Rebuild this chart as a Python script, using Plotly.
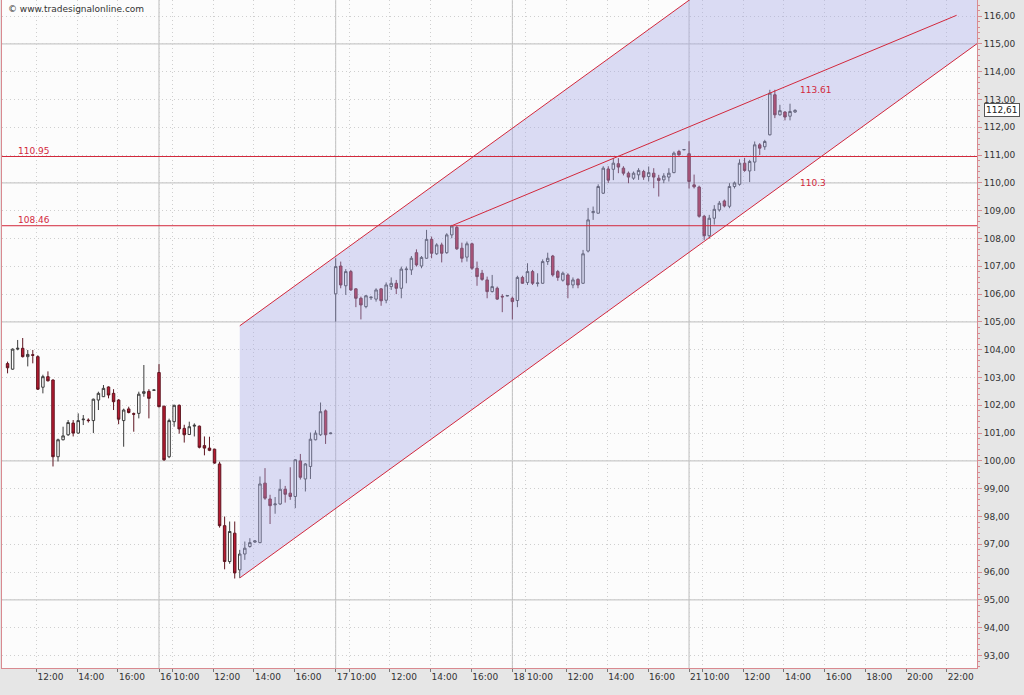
"""Intraday candlestick chart with a rising channel and support levels."""
import plotly.graph_objects as go

# ---------------------------------------------------------------------------
# Session layout: 15-minute bars, 35 bars per trading day (09:20 - 18:00)
# ---------------------------------------------------------------------------
BARS_PER_DAY = 35
BARS_PER_HOUR = 4.03
SESSION_OPEN = 9 + 20 / 60

DAY_LABELS = ["15", "16", "17", "18", "21"]
FIRST_BAR = [5, 0, 0, 0, 0]
HOUR_TICKS = [
    [12, 14, 16],
    [10, 12, 14, 16],
    [10, 12, 14, 16],
    [10, 12, 14, 16],
    [10, 12, 14, 16, 18, 20, 22],
]

# (open, high, low, close) per bar
DAY15 = [
    (103.50, 103.57, 103.15, 103.35), (103.30, 104.05, 103.28, 104.02),
    (104.02, 104.35, 103.98, 104.05), (104.05, 104.42, 103.72, 103.75),
    (103.75, 103.99, 103.40, 103.83), (103.82, 103.99, 103.51, 103.80),
    (103.75, 103.80, 102.55, 102.58), (102.65, 103.10, 102.43, 103.03),
    (103.03, 103.22, 102.86, 102.88), (102.91, 102.93, 99.80, 100.15),
    (100.15, 100.80, 99.98, 100.76), (100.76, 101.23, 100.74, 100.90),
    (100.94, 101.47, 100.90, 101.38), (101.36, 101.47, 100.88, 101.00),
    (101.00, 101.71, 100.98, 101.45), (101.48, 101.65, 101.29, 101.50),
    (101.47, 101.53, 101.38, 101.45), (101.45, 102.24, 101.00, 102.22),
    (102.19, 102.49, 101.83, 102.43), (102.31, 102.73, 102.30, 102.61),
    (102.66, 102.68, 102.25, 102.37), (102.43, 102.58, 101.83, 102.13),
    (102.19, 102.22, 101.32, 101.50), (101.45, 101.88, 100.51, 101.83),
    (101.87, 101.95, 101.71, 101.74), (101.70, 101.74, 101.05, 101.68),
    (101.71, 102.49, 101.53, 102.40), (102.43, 103.45, 102.31, 102.49),
    (102.50, 102.58, 101.53, 102.25), (102.54, 102.56, 102.53, 102.55),
]
DAY16 = [
    (103.18, 103.48, 101.93, 101.95), (101.97, 101.98, 100.00, 100.04),
    (100.15, 101.52, 100.10, 101.45), (101.41, 102.02, 101.23, 102.00),
    (102.00, 102.03, 100.98, 101.15), (101.17, 101.30, 100.66, 100.94),
    (100.95, 101.41, 100.93, 101.23), (101.25, 101.35, 100.88, 101.28),
    (101.25, 101.27, 100.45, 100.49), (100.55, 100.88, 100.20, 100.46),
    (100.46, 100.87, 100.35, 100.38), (100.42, 100.44, 99.90, 99.92),
    (99.89, 99.97, 97.60, 97.67), (97.67, 98.00, 96.10, 96.38),
    (96.38, 97.82, 96.30, 97.46), (97.40, 97.82, 95.77, 95.97),
    (96.08, 96.80, 95.79, 96.65), (96.65, 97.10, 96.44, 96.86),
    (96.92, 97.22, 96.88, 97.06), (97.08, 97.15, 97.05, 97.12),
    (97.06, 99.44, 97.04, 99.17), (99.20, 99.74, 98.60, 98.66),
    (98.63, 98.78, 97.73, 98.39), (98.42, 98.70, 98.10, 98.45),
    (98.45, 99.34, 98.42, 98.98), (98.98, 99.10, 98.50, 98.80),
    (98.84, 99.77, 98.60, 98.72), (98.72, 100.06, 98.30, 100.04),
    (100.00, 100.25, 99.33, 99.41), (99.35, 99.92, 98.90, 99.89),
    (99.80, 101.02, 99.35, 100.78), (100.76, 101.10, 100.74, 101.00),
    (100.94, 102.10, 100.90, 101.77), (101.80, 101.85, 100.61, 100.94),
    (100.98, 101.02, 100.96, 101.00),
]
DAY17 = [
    (106.01, 107.29, 105.01, 106.99), (107.01, 107.17, 106.21, 106.33),
    (106.30, 106.90, 105.97, 106.81), (106.81, 106.87, 106.12, 106.15),
    (106.19, 106.21, 105.53, 105.85), (105.85, 105.91, 105.09, 105.61),
    (105.55, 105.97, 105.49, 105.94), (105.87, 105.91, 105.79, 105.89),
    (105.82, 106.21, 105.73, 106.15), (106.19, 106.21, 105.58, 105.76),
    (105.78, 106.42, 105.67, 106.33), (106.27, 106.60, 106.15, 106.39),
    (106.39, 106.51, 106.00, 106.21), (106.21, 106.99, 105.85, 106.90),
    (106.88, 106.99, 106.39, 106.90), (106.87, 107.37, 106.69, 107.29),
    (107.49, 107.61, 106.99, 107.05), (107.01, 107.37, 106.93, 107.32),
    (107.29, 108.31, 107.27, 107.97), (107.97, 108.07, 107.29, 107.47),
    (107.45, 107.83, 107.41, 107.77), (107.77, 107.85, 107.14, 107.47),
    (107.49, 108.19, 107.45, 108.13), (108.13, 108.49, 108.01, 108.45),
    (108.40, 108.45, 107.59, 107.63), (107.65, 107.85, 107.14, 107.29),
    (107.33, 107.89, 107.17, 107.81), (107.81, 107.85, 106.87, 106.93),
    (106.93, 107.17, 106.30, 106.63), (106.75, 106.87, 106.48, 106.53),
    (106.51, 106.63, 105.85, 106.09), (106.09, 106.69, 106.06, 106.27),
    (106.21, 106.27, 105.79, 105.82), (105.92, 106.00, 105.35, 105.90),
    (105.93, 105.96, 105.92, 105.95),
]
DAY18 = [
    (105.85, 105.91, 105.09, 105.73), (105.77, 106.66, 105.53, 106.60),
    (106.60, 106.66, 106.37, 106.39), (106.42, 107.11, 106.33, 106.81),
    (106.81, 106.87, 106.33, 106.39), (106.38, 106.75, 106.27, 106.40),
    (106.39, 107.25, 106.37, 107.17), (107.17, 107.49, 107.05, 107.29),
    (107.37, 107.41, 106.63, 106.69), (106.81, 106.87, 106.48, 106.60),
    (106.50, 106.81, 106.45, 106.75), (106.69, 106.75, 105.85, 106.33),
    (106.33, 106.60, 106.21, 106.51), (106.53, 106.57, 106.21, 106.33),
    (106.39, 107.59, 106.37, 107.45), (107.55, 109.10, 107.50, 108.67),
    (108.93, 109.15, 108.67, 108.97), (108.91, 109.95, 108.90, 109.87),
    (109.63, 110.60, 109.60, 110.53), (110.50, 110.60, 110.00, 110.10),
    (110.49, 110.89, 110.10, 110.71), (110.69, 110.89, 110.35, 110.57),
    (110.53, 110.60, 110.27, 110.35), (110.35, 110.41, 109.99, 110.21),
    (110.17, 110.41, 110.11, 110.35), (110.29, 110.53, 110.11, 110.45),
    (110.41, 110.47, 110.11, 110.21), (110.23, 110.59, 110.05, 110.37),
    (110.35, 110.53, 109.81, 110.21), (110.17, 110.29, 109.51, 110.09),
    (110.11, 110.35, 109.99, 110.25), (110.21, 110.53, 110.05, 110.35),
    (110.37, 111.13, 110.35, 111.07), (111.13, 111.19, 110.98, 111.01),
    (111.19, 111.21, 111.18, 111.20),
]
DAY21 = [
    (111.05, 111.50, 109.80, 110.05), (109.93, 110.30, 109.80, 109.86),
    (109.85, 109.90, 108.75, 108.80), (108.80, 108.85, 107.95, 108.10),
    (108.10, 108.85, 108.00, 108.73), (108.73, 109.20, 108.50, 109.05),
    (109.03, 109.35, 108.97, 109.27), (109.35, 109.40, 109.12, 109.17),
    (109.16, 109.99, 109.09, 109.87), (109.87, 110.05, 109.80, 110.00),
    (109.95, 110.85, 109.90, 110.71), (110.71, 110.90, 110.40, 110.45),
    (110.43, 110.83, 110.03, 110.77), (110.75, 111.49, 110.43, 111.37),
    (111.37, 111.43, 111.00, 111.25), (111.30, 111.55, 111.19, 111.49),
    (111.73, 113.35, 111.71, 113.23), (113.17, 113.35, 112.33, 112.45),
    (112.45, 112.81, 112.42, 112.60), (112.55, 112.58, 112.25, 112.37),
    (112.40, 112.85, 112.25, 112.57), (112.55, 112.65, 112.52, 112.61),
]
SESSIONS = [DAY15, DAY16, DAY17, DAY18, DAY21]

# Drawing tools
LEVELS = [110.95, 108.46]
CHANNEL_START = 51          # bar of the channel anchor (the low)
CHANNEL_LOW = 95.79
CHANNEL_HIGH = 104.86
CHANNEL_SLOPE = 0.1316      # price per bar
TREND_BARS = [93, 193]
TREND_PRICES = [108.46, 116.03]
LABEL_BAR = 161

X_RANGE = [3.9, 197.04]
Y_RANGE = [92.55, 116.58]

RED = "#d2283c"
BULL_FILL = "#ffffff"
BEAR_FILL = "#b81a30"
BULL_LINE = "#3c3c3c"
BEAR_LINE = "#5e1520"
GRID = "#cfcfcf"

# ---------------------------------------------------------------------------
# Flatten bars
# ---------------------------------------------------------------------------
xs, op, hi, lo, cl = [], [], [], [], []
for d, bars in enumerate(SESSIONS):
    start = d * BARS_PER_DAY + FIRST_BAR[d]
    for j, (o, h, l, c) in enumerate(bars):
        xs.append(start + j)
        op.append(o)
        hi.append(h)
        lo.append(l)
        cl.append(c)

tickvals, ticktext = [], []
for d, hours in enumerate(HOUR_TICKS):
    day_start = d * BARS_PER_DAY
    if d > 0:
        tickvals.append(day_start)
        ticktext.append(DAY_LABELS[d])
    for h in hours:
        tickvals.append(day_start + (h - SESSION_OPEN) * BARS_PER_HOUR)
        ticktext.append(f"{h}:00")


def channel(bar, base):
    return base + (bar - CHANNEL_START) * CHANNEL_SLOPE


def trend(bar):
    b0, b1 = TREND_BARS
    p0, p1 = TREND_PRICES
    return p0 + (bar - b0) * (p1 - p0) / (b1 - b0)


ch_end = X_RANGE[1] + 2

fig = go.Figure()

# shaded channel
fig.add_trace(go.Scatter(
    x=[CHANNEL_START, ch_end, ch_end, CHANNEL_START, CHANNEL_START],
    y=[channel(CHANNEL_START, CHANNEL_LOW), channel(ch_end, CHANNEL_LOW),
       channel(ch_end, CHANNEL_HIGH), channel(CHANNEL_START, CHANNEL_HIGH),
       channel(CHANNEL_START, CHANNEL_LOW)],
    mode="lines", fill="toself", fillcolor="rgba(168,170,230,0.40)",
    line=dict(width=0), hoverinfo="skip",
))
for base in (CHANNEL_LOW, CHANNEL_HIGH):
    fig.add_trace(go.Scatter(
        x=[CHANNEL_START, ch_end],
        y=[channel(CHANNEL_START, base), channel(ch_end, base)],
        mode="lines", line=dict(color=RED, width=1), hoverinfo="skip",
    ))
fig.add_trace(go.Scatter(
    x=TREND_BARS, y=TREND_PRICES, mode="lines",
    line=dict(color=RED, width=1), hoverinfo="skip",
))
for lvl in LEVELS:
    fig.add_trace(go.Scatter(
        x=X_RANGE, y=[lvl, lvl], mode="lines",
        line=dict(color=RED, width=1), hoverinfo="skip",
    ))

fig.add_trace(go.Candlestick(
    x=xs, open=op, high=hi, low=lo, close=cl,
    increasing=dict(fillcolor=BULL_FILL, line=dict(color=BULL_LINE, width=1)),
    decreasing=dict(fillcolor=BEAR_FILL, line=dict(color=BEAR_LINE, width=1)),
    whiskerwidth=0,
))

# solid grid: every 5 points and day separators
for p in range(95, 120, 5):
    fig.add_hline(y=p, line=dict(color="#bdbdbd", width=1), layer="below")
for d in range(1, len(DAY_LABELS)):
    fig.add_vline(x=d * BARS_PER_DAY, line=dict(color="#bdbdbd", width=1), layer="below")

# text labels
for lvl in LEVELS:
    fig.add_annotation(x=0.014, xref="paper", y=lvl, yref="y", text=f"{lvl:.2f}",
                       showarrow=False, xanchor="left", yanchor="bottom",
                       font=dict(size=9, color=RED), yshift=-1)
fig.add_annotation(x=LABEL_BAR + 0.5, y=trend(LABEL_BAR), text=f"{trend(LABEL_BAR):.2f}",
                   showarrow=False, xanchor="left", yanchor="top",
                   font=dict(size=9, color=RED))
fig.add_annotation(x=LABEL_BAR + 0.5, y=channel(LABEL_BAR, CHANNEL_LOW),
                   text=f"{channel(LABEL_BAR, CHANNEL_LOW):.1f}",
                   showarrow=False, xanchor="left", yanchor="top",
                   font=dict(size=9, color=RED))
fig.add_annotation(x=1.0, xref="paper", y=cl[-1], yref="y",
                   text=f"{cl[-1]:.2f}".replace(".", ","),
                   showarrow=False, xanchor="left", xshift=7,
                   bordercolor="#555555", borderwidth=1, borderpad=1,
                   bgcolor="#ffffff", font=dict(size=9, color="#222222"))
fig.add_annotation(x=0.004, xref="paper", y=0.997, yref="paper",
                   text="© www.tradesignalonline.com", showarrow=False,
                   xanchor="left", yanchor="top",
                   font=dict(size=9, color="#333333"))

fig.update_layout(
    width=1024, height=695,
    margin=dict(l=2, r=47, t=0, b=27),
    paper_bgcolor="#e6e6e6",
    plot_bgcolor="#fcfcfc",
    separators=",.",
    showlegend=False,
    font=dict(family="DejaVu Sans", size=9, color="#333333"),
    xaxis=dict(
        range=X_RANGE, rangeslider=dict(visible=False),
        tickvals=tickvals, ticktext=ticktext, tickangle=0,
        ticks="outside", ticklen=3, tickcolor="#777777",
        ticklabelposition="outside right",
        showgrid=True, gridcolor=GRID, griddash="1px,3px",
        showline=True, linecolor="#d98a90", mirror=True, zeroline=False,
        tickfont=dict(size=9),
    ),
    yaxis=dict(
        range=Y_RANGE, side="right", dtick=1, tickformat=".2f",
        ticks="outside", ticklen=4, tickcolor="#d98a90",
        minor=dict(dtick=0.2, ticks="outside", ticklen=2, tickcolor="#d98a90"),
        showgrid=True, gridcolor=GRID, griddash="1px,3px",
        showline=True, linecolor="#d98a90", mirror=True, zeroline=False,
        tickfont=dict(size=9),
    ),
)

fig.write_html("out.html", config={"displayModeBar": False},
               post_script="document.body.style.margin = '0px';")
